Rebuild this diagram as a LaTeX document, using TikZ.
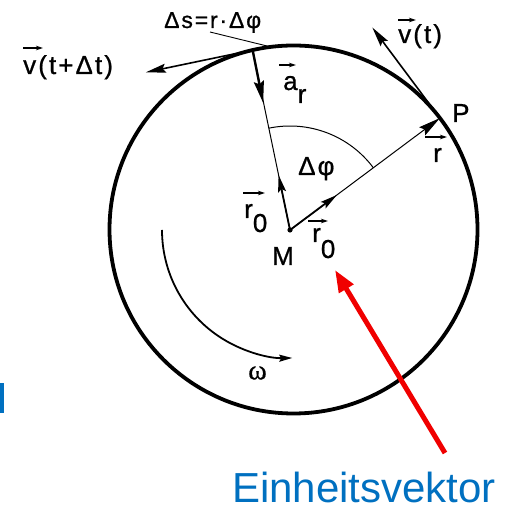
\documentclass[tikz,border=0pt]{standalone}
\usepackage{fontspec}
\setmainfont{Liberation Sans}
\newfontfamily\lbl[LetterSpace=8,FakeBold=0.8]{Liberation Sans}
\newfontfamily\lbltop[LetterSpace=8,FakeBold=0.8]{Liberation Sans}
\newfontfamily\omegafont[FakeBold=0.6]{Liberation Serif}
\usetikzlibrary{arrows.meta,calc}
\definecolor{einblue}{RGB}{0,112,192}
\definecolor{einred}{RGB}{240,0,0}
\tikzset{
  lab/.style={font=\lbl\fontsize{26}{26}\selectfont, inner sep=0pt, anchor=base west},
  vecar/.style={line width=1.2pt, -{Stealth[length=7pt,width=4.5pt]}},
  thinline/.style={line width=1pt},
  bigvec/.style={line width=1.6pt, -{Stealth[length=20pt,width=9pt,inset=3pt]}},
}
\begin{document}
\begin{tikzpicture}[x=1pt,y=1pt]
\useasboundingbox (0,0) rectangle (504,510);
% key points
\coordinate (M) at (290,280);
\coordinate (C) at (293.5,280.5);
\coordinate (T) at (252.6,459.9);
\coordinate (P) at (439.9,391.9);
\coordinate (Ar) at (263.2,407);
\coordinate (R0u) at (278.6,334.8);
\coordinate (R0r) at (336.9,315);
\coordinate (Vt) at (372.3,482.5);
\coordinate (Vdt) at (145.9,437.7);
\coordinate (Ls) at (210,478);
\coordinate (Le) at (267,464);
\coordinate (Rt) at (445,57);
\coordinate (Rh) at (335,240);

% circle
\draw[line width=3.8pt] (C) circle[radius=184];

% radial lines
\draw[thinline] (T) -- (M);
\draw[thinline, -{Stealth[length=22pt,width=10pt,inset=3pt]}] (M) -- (P);

% delta phi arc
\draw[thinline] ($(M)+(36.7:104)$) arc[start angle=36.7,end angle=101.7,radius=104];

% omega arc
\draw[line width=1.8pt, -{Stealth[length=13pt,width=7pt,inset=2pt]}] ($(M)+(180:128)$) arc[start angle=180,end angle=271,radius=128];

% unit vectors
\draw[line width=1.8pt, -{Stealth[length=17pt,width=8pt,inset=3pt]}] (M) -- (R0u);
\draw[line width=1.8pt, -{Stealth[length=17pt,width=8pt,inset=3pt]}] (M) -- (R0r);

% radial acceleration
\draw[line width=2.4pt, -{Stealth[length=22pt,width=10pt,inset=3pt]}] (T) -- (Ar);

% velocities
\draw[bigvec] (P) -- (Vt);
\draw[bigvec] (T) -- (Vdt);

% centre dot
\fill (M) circle[radius=2.6];

% leader line
\draw[line width=0.9pt] (Ls) -- (Le);

% labels
\node[lab] (lvdt) at (23,436) {v(t+Δt)};
\draw[vecar] ([shift={(0,26)}]lvdt.base west) -- ++(20,0);

\node[lab] (lvt) at (398,467) {v(t)};
\draw[vecar] ([shift={(0,23)}]lvt.base west) -- ++(18,0);

\node[font=\lbltop\fontsize{23}{23}\selectfont, inner sep=0pt, anchor=base west] (ds) at (164,482) {Δs=r·Δφ};

\node[lab] (lar) at (283,420) {a\raisebox{-13pt}{r}};
\draw[vecar] ([shift={(-4,25)}]lar.base west) -- ++(17,0);

\node[lab] (lP) at (452,388) {P};

\node[lab] (lr) at (433,348) {r};
\draw[vecar] ([shift={(-8,25)}]lr.base west) -- ++(22,0);

\node[lab] (ldphi) at (298,335) {Δφ};

\node[lab] (lr0a) at (244,292) {r\raisebox{-14pt}{0}};
\draw[vecar] ([shift={(-1,25)}]lr0a.base west) -- ++(22,0);

\node[lab] (lr0b) at (312,268) {r\raisebox{-16pt}{0}};
\draw[vecar] ([shift={(-4,21)}]lr0b.base west) -- ++(20,0);

\node[lab] (lM) at (272,245) {M};

\node[font=\omegafont\fontsize{28}{28}\selectfont, inner sep=0pt] (om) at (257.5,137) {ω};

% red pointer and caption
\node[font=\fontsize{42}{42}\selectfont, text=einblue, inner sep=0pt, text depth=0pt, anchor=base west] (ein) at (232,7) {Einheitsvektor};
\draw[einred, line width=5pt, -{Triangle[length=22pt,width=16pt]}] (Rt) -- (Rh);

% cut-off blue glyph at left edge
\fill[einblue] (0,97) rectangle (4,127);
\end{tikzpicture}
\end{document}
